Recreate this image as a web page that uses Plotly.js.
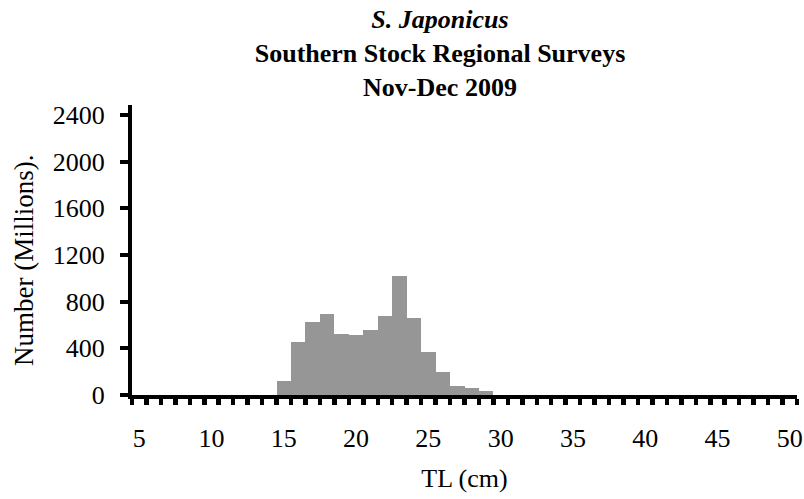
<!DOCTYPE html>
<html>
<head>
<meta charset="utf-8">
<script src="https://cdn.plot.ly/plotly-3.0.1.min.js"></script>
<style>html,body{margin:0;padding:0;background:#fff;}#chart{width:804px;height:499px;}</style>
</head>
<body>
<div id="chart"></div>
<script>
// Length classes (TL, cm) and numbers (millions)
const lengthClasses = [15, 16, 17, 18, 19, 20, 21, 22, 23, 24, 25, 26, 27, 28, 29];
const numbersMillions = [124, 452, 623, 697, 526, 518, 560, 680, 1016, 663, 372, 201, 75, 64, 38];
const xTickValues = [5, 10, 15, 20, 25, 30, 35, 40, 45, 50];
const yTickValues = [0, 400, 800, 1200, 1600, 2000, 2400];

const FONT = 'Liberation Serif, Times New Roman, serif';
const FS = 26;

const trace = {
  type: 'bar',
  x: lengthClasses,
  y: numbersMillions,
  width: 1,
  marker: {color: '#969696', line: {width: 0}},
  hoverinfo: 'x+y'
};

const layout = {
  width: 804,
  height: 499,
  margin: {l: 132, r: 7, t: 105, b: 104},
  paper_bgcolor: '#ffffff',
  plot_bgcolor: '#ffffff',
  showlegend: false,
  bargap: 0,
  font: {family: FONT, size: FS, color: '#000'},
  title: {
    text: '<i>S. Japonicus</i><br>Southern Stock Regional Surveys<br>Nov-Dec 2009',
    font: {family: FONT, size: FS, color: '#000', weight: 'bold'},
    x: (440 - 132) / 665, xref: 'paper', xanchor: 'center',
    y: 1 - 28 / 499, yref: 'container', yanchor: 'top'
  },
  xaxis: {
    range: [4.5, 50.5],
    tickmode: 'array',
    tickvals: xTickValues,
    ticktext: xTickValues.map(String),
    ticks: '',
    ticklabelstandoff: 17,
    showline: true,
    linecolor: '#000',
    linewidth: 4,
    showgrid: false,
    zeroline: false,
    minor: {ticks: 'outside', tick0: 4.5, dtick: 1, ticklen: 6, tickwidth: 4.5, tickcolor: '#000', showgrid: false},
    tickfont: {family: FONT, size: FS, color: '#000'},
    title: {text: 'TL (cm)', font: {family: FONT, size: FS, color: '#000'}, standoff: 18},
    fixedrange: true
  },
  yaxis: {
    range: [0, 2485.7],
    tickmode: 'array',
    tickvals: yTickValues,
    ticks: 'outside',
    ticklen: 8,
    tickwidth: 4,
    tickcolor: '#000',
    ticklabelstandoff: 10,
    showline: true,
    linecolor: '#000',
    linewidth: 4,
    showgrid: false,
    zeroline: false,
    tickfont: {family: FONT, size: FS, color: '#000'},
    fixedrange: true
  },
  annotations: [{
    text: 'Number (Millions).',
    textangle: -90,
    xref: 'paper', yref: 'paper',
    x: (24 - 132) / 665, y: (395 - 260) / 290,
    xanchor: 'center', yanchor: 'middle',
    showarrow: false,
    font: {family: FONT, size: 27, color: '#000'}
  }]
};

Plotly.newPlot('chart', [trace], layout, {displayModeBar: false, staticPlot: true});
</script>
</body>
</html>
